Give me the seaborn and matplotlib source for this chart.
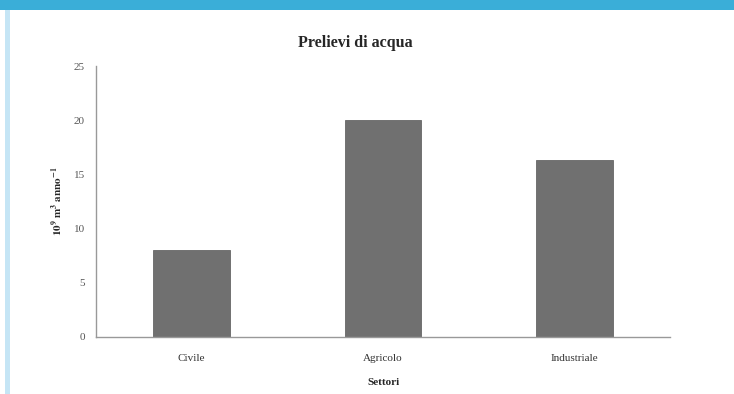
import matplotlib
matplotlib.use("Agg")
import matplotlib.pyplot as plt
from matplotlib.patches import Rectangle
import seaborn as sns
import pandas as pd

categories = ["Civile", "Agricolo", "Industriale"]
values = [8.0, 20.0, 16.3]
yticks = [0, 5, 10, 15, 20, 25]

sns.set_style("white")
plt.rcParams["font.family"] = ["Liberation Serif", "DejaVu Serif"]
plt.rcParams["mathtext.fontset"] = "stix"

df = pd.DataFrame({"Settori": categories, "Prelievi": values})

fig = plt.figure(figsize=(7.34, 3.94), dpi=100)
ax = fig.add_axes([96 / 734, 1 - 337 / 394, (670 - 96) / 734, (337 - 66) / 394])

sns.barplot(data=df, x="Settori", y="Prelievi", color="#707070", width=0.4,
            saturation=1, edgecolor="#666666", linewidth=0.6, ax=ax)

ax.set_xlim(-0.5, 2.5)
ax.set_ylim(0, 25)
ax.set_yticks(yticks)
ax.set_yticklabels([str(t) for t in yticks])
ax.set_xticks([0, 1, 2])
ax.set_xticklabels(categories)
ax.set_xticks([-0.5, 0.5, 1.5, 2.5], minor=True)
ax.tick_params(axis="x", which="major", length=0, pad=12, labelsize=8, labelcolor="#333333")
ax.tick_params(axis="x", which="minor", length=3, width=0.8, color="#999999", direction="out")
ax.tick_params(axis="y", length=3, width=0.8, color="#999999", direction="out",
               labelsize=8, labelcolor="#555555", pad=5)

for s in ["top", "right"]:
    ax.spines[s].set_visible(False)
for s in ["left", "bottom"]:
    ax.spines[s].set_color("#999999")
    ax.spines[s].set_linewidth(1.0)

ax.set_xlabel("Settori", fontsize=8, fontweight="bold", labelpad=11)
ax.set_ylabel(r"$\mathbf{10^9\ m^3\ anno^{-1}}$", fontsize=8, labelpad=6)
fig.text(355 / 734, 1 - 43 / 394, "Prelievi di acqua", ha="center", va="center",
         fontsize=11.5, fontweight="bold")

fig.patches.append(Rectangle((0, 1 - 10 / 394), 1, 10 / 394, transform=fig.transFigure,
                             facecolor="#3AAED8", edgecolor="none", zorder=5))
fig.patches.append(Rectangle((5 / 734, 0), 5 / 734, 1 - 10 / 394, transform=fig.transFigure,
                             facecolor="#C5E5F5", edgecolor="none", zorder=5))

fig.savefig("out.png", dpi=100)
